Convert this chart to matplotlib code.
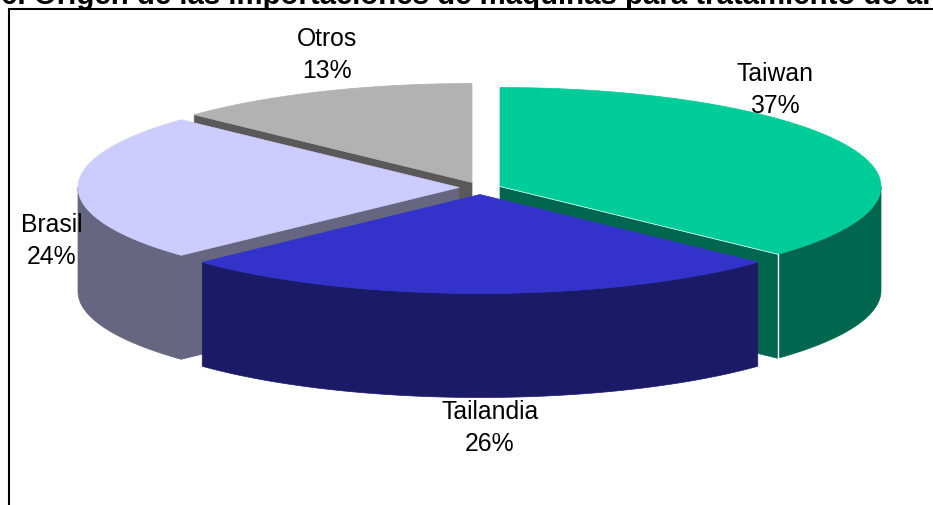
import numpy as np
import matplotlib
matplotlib.use("Agg")
import matplotlib.pyplot as plt
from matplotlib.patches import Polygon

plt.rcParams['font.family'] = ['Liberation Sans', 'DejaVu Sans']

# Chart data
labels = ["Taiwan", "Tailandia", "Brasil", "Otros"]
values = [37, 26, 24, 13]
title = "6. Origen de las importaciones de máquinas para tratamiento de ar"

# Slice styles, pixel layout of the exploded pie
top_colors = ["#00CC99", "#3333CC", "#CCCCFF", "#B2B2B2"]
side_colors = ["#00664D", "#1A1A66", "#666680", "#595959"]
centers = [(500, 187.5), (480, 195.5), (459, 188.5), (472, 183.5)]
label_pos = [(775, 90), (490, 428), (52, 241), (327, 55)]
draw_order = [3, 2, 0, 1]
rx, ry, depth = 381, 99, 104


def rim(center, a0, a1, n=120):
    # angles clockwise from the top of the ellipse, in degrees
    t = np.radians(np.linspace(a0, a1, n))
    return np.column_stack([center[0] + rx * np.sin(t), center[1] - ry * np.cos(t)])


def drop(pts):
    return pts + [0, depth]


def draw_slice(ax, i, a0, a1):
    c = np.array(centers[i], dtype=float)
    side = side_colors[i]

    # cut faces, only the ones turned towards the viewer
    for ang, visible in ((a0, a0 > 180), (a1, a1 < 180)):
        if visible:
            edge = rim(c, ang, ang, 1)[0]
            face = np.array([c, edge, edge + [0, depth], c + [0, depth]])
            ax.add_patch(Polygon(face, closed=True, fc=side, ec=side, lw=0.5))

    # outer wall
    f0, f1 = max(a0, 90), min(a1, 270)
    if f1 > f0:
        arc = rim(c, f0, f1)
        wall = np.vstack([arc, drop(arc)[::-1]])
        ax.add_patch(Polygon(wall, closed=True, fc=side, ec=side, lw=0.5))

    # top
    top = np.vstack([c, rim(c, a0, a1)])
    ax.add_patch(Polygon(top, closed=True, fc=top_colors[i], ec=top_colors[i], lw=0.5))


fig = plt.figure(figsize=(9.33, 5.06), dpi=100)
ax = fig.add_axes([0, 0, 1, 1])
ax.set_xlim(0, 933)
ax.set_ylim(506, 0)
ax.axis("off")

# chart frame, cut by the picture edge on the right and bottom
ax.plot([8.5, 8.5, 933], [506, 9.5, 9.5], color="black", lw=1.5, solid_joinstyle="miter")

ends = np.cumsum(values) / sum(values) * 360
starts = np.concatenate([[0], ends[:-1]])

for i in draw_order[:3]:
    draw_slice(ax, i, starts[i], ends[i])

# thin white seam on the Taiwan slice
c0 = np.array(centers[0], dtype=float)
corner = rim(c0, ends[0], ends[0], 1)[0]
ax.plot([corner[0], corner[0]], [corner[1], corner[1] + depth], color="white", lw=1)
ax.plot([c0[0], corner[0]], [c0[1], corner[1]], color="white", lw=0.5)

draw_slice(ax, draw_order[3], starts[draw_order[3]], ends[draw_order[3]])

for i, name in enumerate(labels):
    x, y = label_pos[i]
    ax.text(x, y, f"{name}\n{values[i]}%", ha="center", va="center",
            fontsize=17.8, linespacing=1.37, color="black", zorder=5)

ax.text(1, 4, title, ha="left", va="baseline", fontsize=21.2, fontweight="bold",
        color="black", clip_on=True)

fig.savefig("out.png", dpi=100)
